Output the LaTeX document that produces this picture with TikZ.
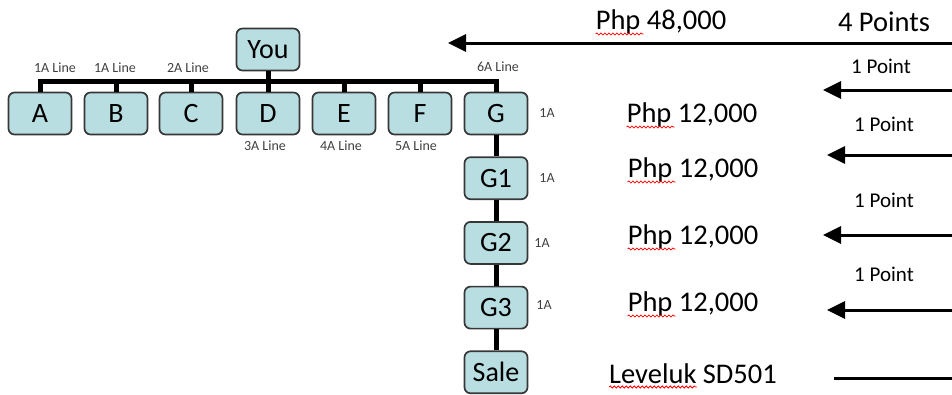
\documentclass[tikz,border=0pt]{standalone}
\usepackage{fontspec}
\setmainfont{Carlito}
\usetikzlibrary{positioning,arrows.meta,decorations.pathmorphing}
\definecolor{boxfill}{RGB}{185,222,226}
\definecolor{boxline}{RGB}{55,55,55}

\begin{document}
\begin{tikzpicture}[x=1pt,y=-1pt,
  box/.style={draw=boxline,fill=boxfill,line width=1.7pt,rounded corners=6pt,
    minimum width=63pt,minimum height=42pt,inner sep=0pt,font=\fontsize{28}{30}\selectfont},
  bus/.style={line width=5pt},
  minor/.style={inner sep=0pt,text=black!75,font=\fontsize{14}{16}\selectfont},
  money/.style={inner sep=0pt,font=\fontsize{28.5}{30}\selectfont},
  pointlbl/.style={inner sep=0pt,font=\fontsize{21}{23}\selectfont},
  flow/.style={line width=3pt,-{Triangle[length=18pt,width=17pt]}},
  squiggle/.style={red,line width=0.8pt,decorate,
    decoration={snake,amplitude=1pt,segment length=4pt}}]
  \useasboundingbox (0,0) rectangle (952,394);

  % tree
  \node[box] (you) at (268,49.5) {You};
  \foreach \n/\x in {A/40,B/116,C/191,D/268,E/344,F/420,G/496}
    \node[box] (\n) at (\x,113.5) {\n};
  \node[box,below=21pt of G] (G1) {G1};
  \node[box,below=21pt of G1] (G2) {G2};
  \node[box,below=21pt of G2] (G3) {G3};
  \node[box,below=21pt of G3] (sale) {Sale};

  \path (you.south) -- coordinate[midway] (hub) (D.north);
  \foreach \n in {A,B,C,E,F,G}
    \draw[bus] (\n.north) |- (hub);
  \draw[bus] (you) -- (D);
  \draw[bus] (G) -- (G1) -- (G2) -- (G3) -- (sale);

  % line labels
  \node[minor] (lA) at (55,68) {1A Line};
  \node[minor] (lB) at (115,68) {1A Line};
  \node[minor] (lC) at (188,68) {2A Line};
  \node[minor] (lD) at (265,146) {3A Line};
  \node[minor] (lE) at (341,146) {4A Line};
  \node[minor] (lF) at (416,146) {5A Line};
  \node[minor] (lG) at (498,67) {6A Line};
  \node[minor] (aG) at (547,113) {1A};
  \node[minor] (aG1) at (547,178) {1A};
  \node[minor] (aG2) at (542,243) {1A};
  \node[minor] (aG3) at (544,305) {1A};

  % amounts
  \node[money] (p0) at (661,22) {Php 48,000};
  \node[money] (p1) at (692,115) {Php 12,000};
  \node[money] (p2) at (693,170) {Php 12,000};
  \node[money] (p3) at (693,237) {Php 12,000};
  \node[money] (p4) at (693,304) {Php 12,000};
  \node[money] (prod) at (693,374) {Leveluk SD501};
  \foreach \p in {p0,p1,p2,p3,p4}
    \draw[squiggle] ([yshift=-12pt]\p.west) -- ++(48,0);
  \draw[squiggle] ([yshift=-13pt]prod.west) -- ++(88,0);

  % points
  \node[money] (pts) at (884,22) {4 Points};
  \node[pointlbl] (q1) at (881,66) {1 Point};
  \node[pointlbl] (q2) at (884,124) {1 Point};
  \node[pointlbl] (q3) at (884,200) {1 Point};
  \node[pointlbl] (q4) at (884,274) {1 Point};

  \foreach \i/\y/\t in {0/43/448,1/90/823,2/155/827,3/235/823,4/310/827}{
    \coordinate (r\i) at (952,\y);
    \coordinate (t\i) at (\t,\y);
    \draw[flow] (r\i) -- (t\i);
  }
  \coordinate (r5) at (952,378);
  \coordinate (t5) at (834,378);
  \draw[line width=3pt] (r5) -- (t5);
\end{tikzpicture}
\end{document}
